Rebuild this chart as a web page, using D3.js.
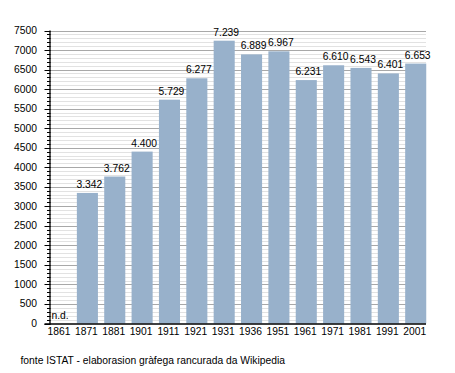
<!DOCTYPE html>
<html><head><meta charset="utf-8">
<script src="https://cdn.jsdelivr.net/npm/d3@7"></script>
<style>body{margin:0;background:#fff}text{font-family:"Liberation Sans",Arial,sans-serif}</style>
</head><body>
<svg id="c" width="455" height="373"></svg>
<script>
const years = ["1861","1871","1881","1901","1911","1921","1931","1936","1951","1961","1971","1981","1991","2001"];
const population = [null,3342,3762,4400,5729,6277,7239,6889,6967,6231,6610,6543,6401,6653];
const valueLabels = ["n.d.","3.342","3.762","4.400","5.729","6.277","7.239","6.889","6.967","6.231","6.610","6.543","6.401","6.653"];
const yTicks = [0,500,1000,1500,2000,2500,3000,3500,4000,4500,5000,5500,6000,6500,7000,7500];
const footer = "fonte ISTAT - elaborasion gràfega rancurada da Wikipedia";

const svg = d3.select("#c");
const x0 = 49.5, step = 27.36, plotRight = 426;
const x = d3.scaleBand().domain(years).range([x0, x0 + step*years.length]).paddingInner(0).paddingOuter(0);
const barW = x.bandwidth()*0.77;
const y = d3.scaleLinear().domain([0,7500]).range([323.5,30.5]);

// minor grid
const minor = d3.range(100, 7501, 100).filter(v => v % 500 !== 0);
svg.append("g").selectAll("line").data(minor).join("line")
  .attr("x1", x0).attr("x2", plotRight)
  .attr("y1", d => Math.round(y(d))+0.5).attr("y2", d => Math.round(y(d))+0.5)
  .attr("stroke", "#e2e2e2").attr("stroke-width", 1);
svg.append("g").selectAll("line").data(yTicks.filter(d=>d>0)).join("line")
  .attr("x1", x0).attr("x2", plotRight)
  .attr("y1", d => Math.round(y(d))+0.5).attr("y2", d => Math.round(y(d))+0.5)
  .attr("stroke", "#a8a8a8").attr("stroke-width", 1);

// bars
const data = years.map((yr,i)=>({yr, v: population[i], lab: valueLabels[i]}));
svg.append("g").selectAll("rect").data(data.filter(d=>d.v!=null)).join("rect")
  .attr("x", d => x(d.yr)).attr("width", barW)
  .attr("y", d => y(d.v)).attr("height", d => y(0)-y(d.v))
  .attr("fill", "#98b1cb");

// value labels
svg.append("g").selectAll("text").data(data).join("text")
  .attr("x", d => x(d.yr) + barW/2 + (d.v==null?0:2))
  .attr("y", d => y(d.v==null?0:d.v) - 5)
  .attr("text-anchor","middle").attr("font-size","10.3px").attr("fill","#000")
  .text(d => d.lab);

// y axis
const yAxis = svg.append("g");
yAxis.selectAll("line.minor").data(minor.concat([])).join("line").attr("class","minor")
  .attr("x1", 47).attr("x2", 50.5)
  .attr("y1", d => Math.round(y(d))+0.5).attr("y2", d => Math.round(y(d))+0.5)
  .attr("stroke","#000").attr("stroke-width",1);
yAxis.selectAll("line.major").data(yTicks).join("line").attr("class","major")
  .attr("x1", 44.5).attr("x2", 50.5)
  .attr("y1", d => Math.round(y(d))+0.5).attr("y2", d => Math.round(y(d))+0.5)
  .attr("stroke","#000").attr("stroke-width",1);
yAxis.selectAll("text").data(yTicks).join("text")
  .attr("x", 37).attr("y", d => y(d)+3.5)
  .attr("text-anchor","end").attr("font-size","10.3px").text(d => d);
svg.append("line").attr("x1",50).attr("x2",50).attr("y1",y(7500)).attr("y2",y(0)+1)
  .attr("stroke","#000").attr("stroke-width",1.3);
svg.append("line").attr("x1",44.5).attr("x2",plotRight).attr("y1",y(0)+0.5).attr("y2",y(0)+0.5)
  .attr("stroke","#000").attr("stroke-width",1.3);

// x labels
svg.append("g").selectAll("text").data(years).join("text")
  .attr("x", d => x(d) + barW/2 - 1).attr("y", 335)
  .attr("text-anchor","middle").attr("font-size","10.3px").text(d => d);

svg.append("text").attr("x",20.5).attr("y",363.5).attr("font-size","10.3px").text(footer);
</script>
</body></html>
